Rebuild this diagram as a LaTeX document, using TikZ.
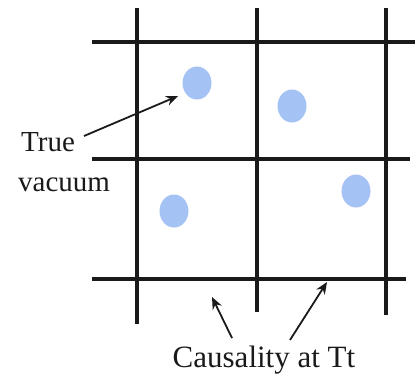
\documentclass[tikz,border=0pt]{standalone}
\usepackage{fontspec}
\setmainfont{Liberation Serif}
\usetikzlibrary{arrows.meta,shapes.geometric}
\definecolor{dotblue}{HTML}{A4C2F4}
\definecolor{ink}{HTML}{1A1A1A}
\begin{document}
\begin{tikzpicture}[x=1pt,y=-1pt,
  gridline/.style={draw=ink,line width=3.6pt},
  dot/.style={ellipse,fill=dotblue,draw=none,minimum width=29pt,minimum height=33pt,inner sep=0pt},
  pointer/.style={draw=ink,line width=1.8pt,-{Stealth[length=12pt,width=10pt]}},
  lbl/.style={font=\fontsize{29}{32}\selectfont,text=ink,inner sep=0pt,anchor=base west}]
\useasboundingbox (0,0) rectangle (417,376);
% grid
\draw[gridline] (137,8) -- (137,324);
\draw[gridline] (257,8) -- (257,312);
\draw[gridline] (386,8) -- (386,315);
\draw[gridline] (92,42) -- (415,42);
\draw[gridline] (92,159) -- (410,159);
\draw[gridline] (92,279) -- (406,279);
% dots
\node[dot] (d1) at (197,83) {};
\node[dot] (d2) at (292,106) {};
\node[dot] (d3) at (356,191) {};
\node[dot] (d4) at (174,211) {};
% labels
\node[lbl] (true) at (21,151) {True};
\node[lbl] (vac) at (18,191) {vacuum};
\node[font=\fontsize{31}{33}\selectfont,text=ink,inner sep=0pt,anchor=base] (caus) at (264,367) {Causality at Tt};
% arrows
\coordinate (a1s) at (84,136);
\coordinate (a1e) at (178,96);
\coordinate (a2s) at (232,338);
\coordinate (a2e) at (212,297);
\coordinate (a3s) at (290,340);
\coordinate (a3e) at (327,282);
\draw[pointer] (a1s) -- (a1e);
\draw[pointer] (a2s) -- (a2e);
\draw[pointer] (a3s) -- (a3e);
\end{tikzpicture}
\end{document}
